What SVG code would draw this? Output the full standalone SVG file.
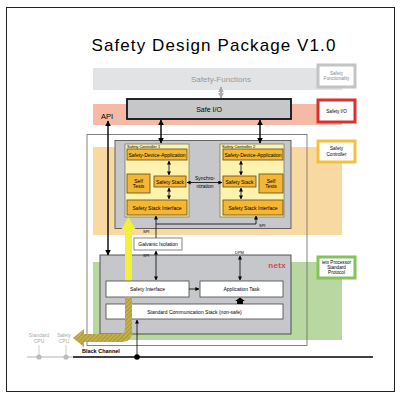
<svg xmlns="http://www.w3.org/2000/svg" width="405" height="403" viewBox="0 0 405 403">
<defs>
<marker id="ah" viewBox="0 0 10 10" refX="9" refY="5" markerWidth="4" markerHeight="4" markerUnits="userSpaceOnUse" orient="auto-start-reverse"><path d="M0,0 L10,5 L0,10 Z" fill="#000"/></marker>
<marker id="ahb" viewBox="0 0 10 10" refX="9" refY="5" markerWidth="6" markerHeight="6" markerUnits="userSpaceOnUse" orient="auto-start-reverse"><path d="M0,0 L10,5 L0,10 Z" fill="#000"/></marker>
<marker id="ahg" viewBox="0 0 10 10" refX="9" refY="5" markerWidth="6" markerHeight="6" markerUnits="userSpaceOnUse" orient="auto-start-reverse"><path d="M0,0 L10,5 L0,10 Z" fill="#aaa"/></marker>
<pattern id="hatch" width="3" height="3" patternUnits="userSpaceOnUse" patternTransform="rotate(45)"><rect width="3" height="3" fill="#c4b04c"/><line x1="0" y1="0" x2="0" y2="3" stroke="#96852c" stroke-width="1.2"/></pattern>
</defs>
<style>
text{font-family:"Liberation Sans",Arial,sans-serif;fill:#000}
.t5{font-size:5px;text-anchor:middle}
.t4{font-size:4px}
.ob{fill:#f5b731;stroke:#5a4a20;stroke-width:0.8}
.sc{fill:#fdf2ae;stroke:#7a7a6a;stroke-width:0.8}
.wb{fill:#fff;stroke:#444;stroke-width:0.8}
.c{stroke:#000;stroke-width:0.8;fill:none}
.cb{stroke:#000;stroke-width:1.4;fill:none}
.lg{fill:#fff;stroke-width:3}
.lt{font-size:4.6px;text-anchor:middle}
</style>
<rect x="6.5" y="7.5" width="388" height="384" fill="#fff" stroke="#222" stroke-width="1"/>
<text x="214" y="51" font-size="17" text-anchor="middle" letter-spacing="1.1">Safety Design Package V1.0</text>

<g id="bands">
<rect x="93" y="68" width="249" height="22" fill="#e1e3e5"/>
<text x="221" y="82" font-size="8" text-anchor="middle" style="fill:#999">Safety-Functions</text>
<rect x="93" y="104" width="249" height="21" fill="#f5b9a5"/>
<text x="101" y="119" font-size="7.5">API</text>
<rect x="93" y="147" width="249" height="88" fill="#f9d9a2"/>
<rect x="93" y="262" width="249" height="78" fill="#b9d8a1"/>
</g>

<g id="legend">
<g id="leg-func"><rect class="lg" x="318" y="65" width="37" height="22" stroke="#c2c4c6"/><text class="lt" x="336.5" y="74.5" style="fill:#888">Safety</text><text class="lt" x="336.5" y="80" style="fill:#888">Functionality</text></g>
<g id="leg-io"><rect class="lg" x="318" y="100" width="37" height="22" stroke="#d8312e"/><text class="lt" x="336.5" y="113">Safety I/O</text></g>
<g id="leg-ctrl"><rect class="lg" x="318" y="141" width="37" height="21" stroke="#f2c23e"/><text class="lt" x="336.5" y="150">Safety</text><text class="lt" x="336.5" y="155.5">Controller</text></g>
<g id="leg-proc"><rect class="lg" x="318" y="257" width="37" height="21" stroke="#82c45a"/><text class="lt" x="336.5" y="263.5">ietx Processor</text><text class="lt" x="336.5" y="268.5">Standard</text><text class="lt" x="336.5" y="273.5">Protocol</text></g>
</g>

<rect x="87" y="134.5" width="220" height="211" fill="none" stroke="#777" stroke-width="0.9"/>

<g id="safe-io"><rect x="127" y="99" width="164" height="20" fill="#c6c7c9" stroke="#111" stroke-width="1.8"/><text x="209" y="112" font-size="7" text-anchor="middle">Safe I/O</text></g>

<g id="ctrl-box"><rect x="115" y="140.5" width="176" height="88" fill="#c6c7cb" stroke="#555" stroke-width="0.9"/></g>

<g id="sc1">
<rect class="sc" x="125" y="144" width="64" height="73"/>
<text class="t4" x="127" y="148" font-size="3.6">Safety Controller 1</text>
<g id="sda1"><rect class="ob" x="127" y="149" width="60" height="11"/><text class="t5" x="157" y="156.5">Safety-Device-Application</text></g>
<g id="st1"><rect class="ob" x="127" y="174" width="23" height="19"/><text class="t5" x="138.5" y="182.5">Self</text><text class="t5" x="138.5" y="188">Tests</text></g>
<g id="ss1"><rect class="ob" x="154" y="176" width="32" height="11"/><text class="t5" x="170" y="183.5">Safety Stack</text></g>
<g id="ssi1"><rect class="ob" x="127" y="200" width="60" height="15"/><text class="t5" x="157" y="209.5">Safety Stack Interface</text></g>
</g>

<g id="sc2">
<rect class="sc" x="220" y="144" width="64" height="73"/>
<text class="t4" x="222" y="148" font-size="3.6">Safety Controller 2</text>
<g id="sda2"><rect class="ob" x="223" y="149" width="60" height="11"/><text class="t5" x="253" y="156.5">Safety-Device-Application</text></g>
<g id="ss2"><rect class="ob" x="223" y="176" width="33" height="11"/><text class="t5" x="239.5" y="183.5">Safety Stack</text></g>
<g id="st2"><rect class="ob" x="259" y="174" width="24" height="19"/><text class="t5" x="271" y="182.5">Self</text><text class="t5" x="271" y="188">Tests</text></g>
<g id="ssi2"><rect class="ob" x="223" y="200" width="60" height="15"/><text class="t5" x="253" y="209.5">Safety Stack Interface</text></g>
</g>

<g id="galvanic"><rect x="134" y="238" width="48" height="12" fill="#fff" stroke="#666" stroke-width="0.8"/><text class="t5" x="158" y="246">Galvanic Isolation</text></g>

<g id="netx">
<rect x="100" y="255" width="191" height="79" fill="#c6c7cb" stroke="#444" stroke-width="0.9"/>
<text x="286" y="268" font-size="8" text-anchor="end" style="fill:#c8504a;font-weight:bold" letter-spacing="0.3">netx</text>
</g>

<g id="yellow-arrow">
<path d="M125,298 L125,230 L121,230 L128.5,217 L136,230 L132,230 L132,298 Z" fill="#f3f03a"/>
</g>

<g id="safety-if"><rect class="wb" x="106" y="281" width="83" height="16"/><text class="t5" x="147.5" y="291">Safety Interface</text></g>
<g id="app-task"><rect class="wb" x="200" y="281" width="83" height="16"/><text class="t5" x="241.5" y="291">Application Task</text></g>
<g id="std-stack"><rect class="wb" x="106" y="304" width="177" height="15"/><text class="t5" x="194.5" y="313.5">Standard Communication Stack (non-safe)</text></g>

<g id="olive-arrow">
<path d="M125,297.5 L132,297.5 L132,331 Q132,342 121,342 L84,342 L84,347 L73,338 L84,329 L84,334 L119,334 Q125,334 125,328 Z" fill="url(#hatch)"/>
</g>

<g id="cpus" fill="#bbb" stroke="#ccc">
<line x1="27" y1="357" x2="73" y2="357" stroke-width="1.4"/>
<line x1="39" y1="345" x2="39" y2="357" stroke-width="1"/>
<line x1="66" y1="345" x2="66" y2="357" stroke-width="1"/>
<circle cx="39" cy="357" r="2.6" stroke="none"/>
<circle cx="66" cy="357" r="2.6" stroke="none"/>
<text class="t5" x="39" y="336.5" style="fill:#aaa" stroke="none">Standard</text>
<text class="t5" x="39" y="342.5" style="fill:#aaa" stroke="none">CPU</text>
<text class="t5" x="64" y="336.5" style="fill:#aaa" stroke="none">Safety</text>
<text class="t5" x="64" y="342.5" style="fill:#aaa" stroke="none">CPU</text>
</g>

<g id="connectors">
<line x1="221" y1="87" x2="221" y2="98" stroke="#aaa" stroke-width="2" marker-start="url(#ahg)" marker-end="url(#ahg)"/>
<line class="cb" x1="108" y1="121" x2="108" y2="255" marker-start="url(#ahb)" marker-end="url(#ahb)"/>
<line class="cb" x1="161" y1="120" x2="161" y2="143" marker-start="url(#ahb)" marker-end="url(#ahb)"/>
<line class="cb" x1="260" y1="120" x2="260" y2="143" marker-start="url(#ahb)" marker-end="url(#ahb)"/>
<line class="c" x1="169" y1="161" x2="169" y2="175" marker-start="url(#ah)" marker-end="url(#ah)"/>
<line class="c" x1="169" y1="188" x2="169" y2="199" marker-start="url(#ah)" marker-end="url(#ah)"/>
<line class="c" x1="241" y1="161" x2="241" y2="175" marker-start="url(#ah)" marker-end="url(#ah)"/>
<line class="c" x1="241" y1="188" x2="241" y2="199" marker-start="url(#ah)" marker-end="url(#ah)"/>
<line class="c" x1="187" y1="182.5" x2="222" y2="182.5" marker-start="url(#ah)" marker-end="url(#ah)"/>
<text class="t5" x="205" y="179.5">Synchro-</text>
<text class="t5" x="205" y="188">nization</text>
<path class="c" d="M156,224 L256,224 L256,216" marker-end="url(#ah)"/>
<text class="t4" x="259" y="226.5">SPI</text>
<line class="c" x1="156" y1="216" x2="156" y2="238" marker-start="url(#ah)"/>
<text class="t4" x="143" y="233">SPI</text>
<line class="c" x1="156" y1="251" x2="156" y2="280" marker-start="url(#ah)" marker-end="url(#ah)"/>
<text class="t4" x="143" y="257">SPI</text>
<line class="c" x1="240" y1="256" x2="240" y2="280" marker-start="url(#ah)" marker-end="url(#ah)"/>
<text class="t4" x="235" y="254">DPM</text>
<line class="c" x1="189" y1="289" x2="199" y2="289" marker-end="url(#ah)"/>
<path d="M237,304 L237,301 L235,301 L240,297.5 L245,301 L243,301 L243,304 Z" fill="#000"/>
<line x1="73" y1="357" x2="373" y2="357" stroke="#000" stroke-width="1.4"/>
<line class="c" x1="137" y1="357" x2="137" y2="320" marker-end="url(#ah)"/>
<circle cx="137" cy="357" r="2.8" fill="#000"/>
<text x="82" y="353" font-size="5.5" font-weight="bold">Black Channel</text>
</g>
</svg>
